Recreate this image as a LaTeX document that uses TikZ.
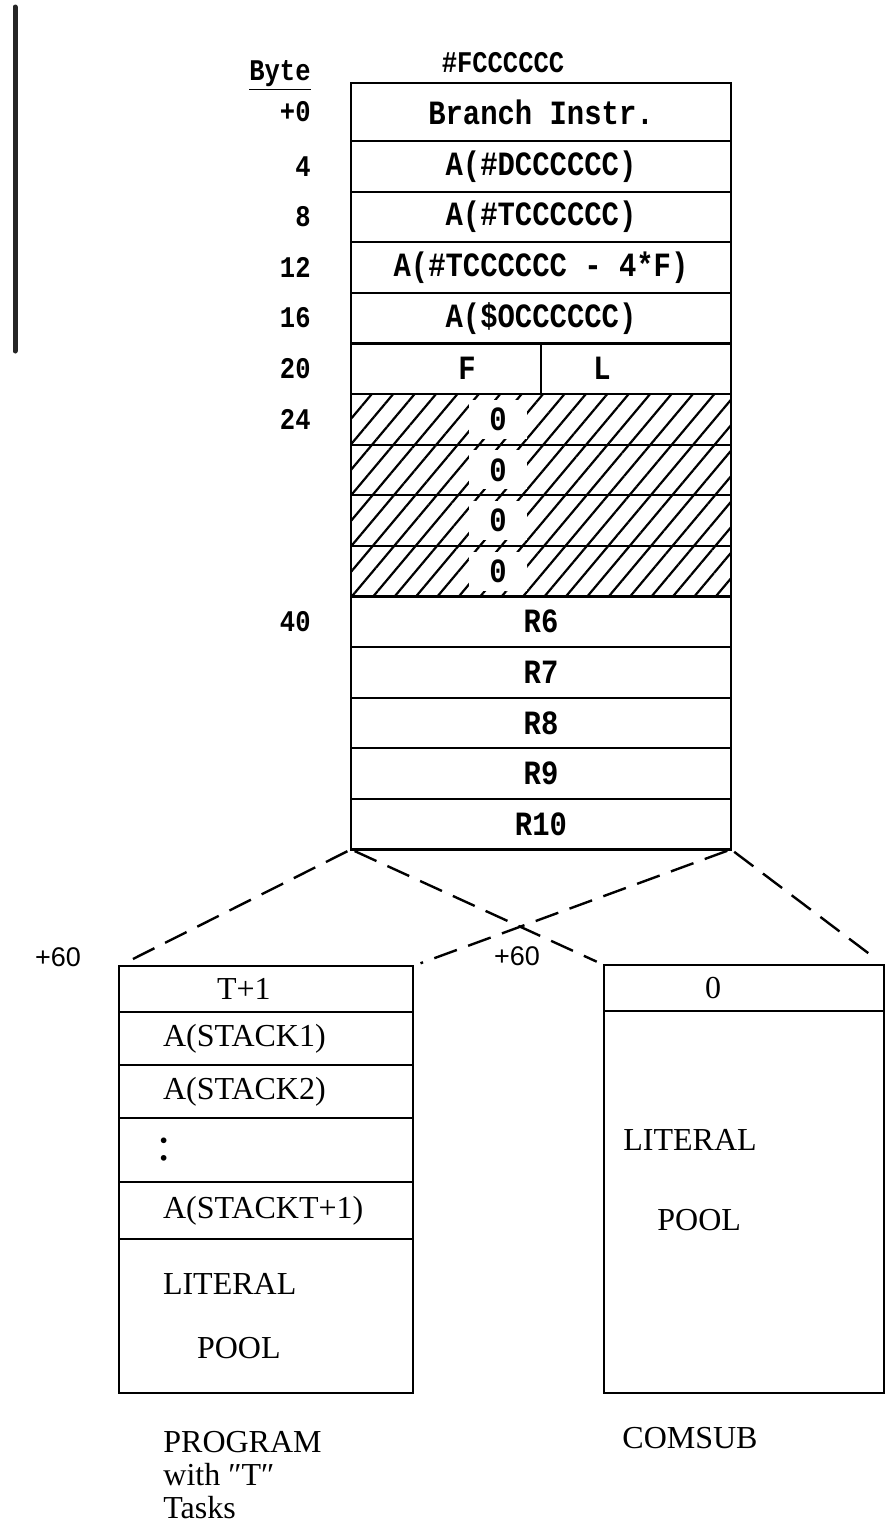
\documentclass[tikz,border=0pt]{standalone}
\usepackage{fontspec}
\setmainfont{Liberation Serif}
\newfontfamily\typew{Liberation Mono}[FakeStretch=0.85]
\newfontfamily\sansf{Liberation Sans}
\usetikzlibrary{positioning, patterns.meta}
\tikzset{
  cell/.style  = {rectangle, draw, line width=1.1pt, outer sep=0pt, inner sep=0pt,
                  minimum width=190pt, minimum height=25.3pt,
                  font=\typew\bfseries\fontsize{17}{20}\selectfont},
  hatch/.style = {cell, pattern={Lines[angle=50,distance=8.2pt,line width=1.1pt]},
                  label={[zero]center:0}},
  lab/.style   = {inner sep=0pt, font=\typew\bfseries\fontsize{17}{20}\selectfont},
  zero/.style  = {lab, fill=white, inner xsep=10pt, inner ysep=4pt, xshift=-21.5pt},
  byte/.style  = {inner sep=0pt, font=\typew\bfseries\fontsize{15}{18}\selectfont},
  pcell/.style = {rectangle, draw, line width=1.1pt, outer sep=0pt, inner ysep=0pt,
                  inner xsep=22pt, text width=103pt, align=left, minimum height=#1,
                  font=\fontsize{16}{17}\selectfont},
  ccell/.style = {rectangle, draw, line width=1.1pt, outer sep=0pt, inner sep=0pt,
                  minimum width=140pt, minimum height=#1,
                  font=\fontsize{16}{17}\selectfont},
  txt/.style   = {inner sep=0pt, align=left, font=\fontsize{16}{17}\selectfont},
  off/.style   = {inner sep=0pt, font=\sansf\fontsize{13.5}{16}\selectfont},
  fan/.style   = {dash pattern=on 12pt off 6pt, line width=1.2pt,
                  shorten <=2pt, shorten >=4pt},
  edge/.style  = {line width=2.5pt, line cap=round, black!85},
}
\begin{document}
\begin{tikzpicture}[x=0.5pt, y=-0.5pt]
  \useasboundingbox (0,0) rectangle (886,1526);

  % binding edge of the scan
  \draw[edge] (15,7) -- (15,351);

  % control block
  \node[cell, minimum height=29pt] (rbr) at (541,112) {Branch Instr.};
  \node[cell, below=0pt of rbr] (rd)  {A(\#DCCCCCC)};
  \node[cell, below=0pt of rd]  (rt)  {A(\#TCCCCCC)};
  \node[cell, below=0pt of rt]  (rtf) {A(\#TCCCCCC - 4*F)};
  \node[cell, below=0pt of rtf] (rs)  {A(\$OCCCCCC)};
  \node[cell, below=0pt of rs,
        label={[lab, xshift=-37pt]center:F},
        label={[lab, xshift=30.5pt]center:L}] (rfl) {};
  \draw[line width=1.1pt] (rfl.north) -- (rfl.south);
  \node[hatch, below=0pt of rfl] (z1) {};
  \node[hatch, below=0pt of z1]  (z2) {};
  \node[hatch, below=0pt of z2]  (z3) {};
  \node[hatch, below=0pt of z3]  (z4) {};
  \node[cell, below=0pt of z4] (g6)  {R6};
  \node[cell, below=0pt of g6] (g7)  {R7};
  \node[cell, below=0pt of g7] (g8)  {R8};
  \node[cell, below=0pt of g8] (g9)  {R9};
  \node[cell, below=0pt of g9] (g10) {R10};

  % byte offsets
  \node[byte, left=20pt of rbr] (b0)  {+0};
  \node[byte, left=20pt of rd]  (b4)  {4};
  \node[byte, left=20pt of rt]  (b8)  {8};
  \node[byte, left=20pt of rtf] (b12) {12};
  \node[byte, left=20pt of rs]  (b16) {16};
  \node[byte, left=20pt of rfl] (b20) {20};
  \node[byte, left=20pt of z1]  (b24) {24};
  \node[byte, left=20pt of g6]  (b40) {40};
  \node[byte, above=5pt of b0.north east, anchor=south east] (bhead) {\underline{Byte}};
  \node[byte] (addr) at (503,63) {\#FCCCCCC};

  % program area
  \node[pcell=23pt] (p0) at (266,989) {\hspace*{27pt}T+1};
  \node[pcell=26.5pt, below=0pt of p0] (p1) {A(STACK1)};
  \node[pcell=26.5pt, below=0pt of p1] (p2) {A(STACK2)};
  \node[pcell=32pt, below=0pt of p2]   (p3) {\hspace*{-3pt}{\fontsize{24}{24}\selectfont :}};
  \node[pcell=28.5pt, below=0pt of p3] (p4) {A(STACKT+1)};
  \node[pcell=77pt, below=0pt of p4]   (p5) {LITERAL\\[15pt]\hspace*{17pt}POOL};

  % comsub area
  \node[ccell=23pt, label={[txt, xshift=-15.5pt]center:0}] (c0) at (744,988) {};
  \node[ccell=191pt, below=0pt of c0] (c1) {};
  \node[txt, anchor=west] (cpool) at (623,1180) {LITERAL\\[23pt]\hspace*{17pt}POOL};

  \node[off] (off1) at (58,957)  {+60};
  \node[off] (off2) at (517,956) {+60};

  \node[txt, anchor=west, font=\fontsize{16}{16.5}\selectfont] (pcap) at (163,1475)
    {PROGRAM\\with ″T″\\Tasks};
  \node[txt, anchor=west] (ccap) at (622,1438) {COMSUB};

  % fan-out to both areas
  \draw[fan] (g10.south west) -- (p0.north west);
  \draw[fan] (g10.south west) -- (c0.north west);
  \draw[fan] (g10.south east) -- (p0.north east);
  \draw[fan] (g10.south east) -- (c0.north east);
\end{tikzpicture}
\end{document}
